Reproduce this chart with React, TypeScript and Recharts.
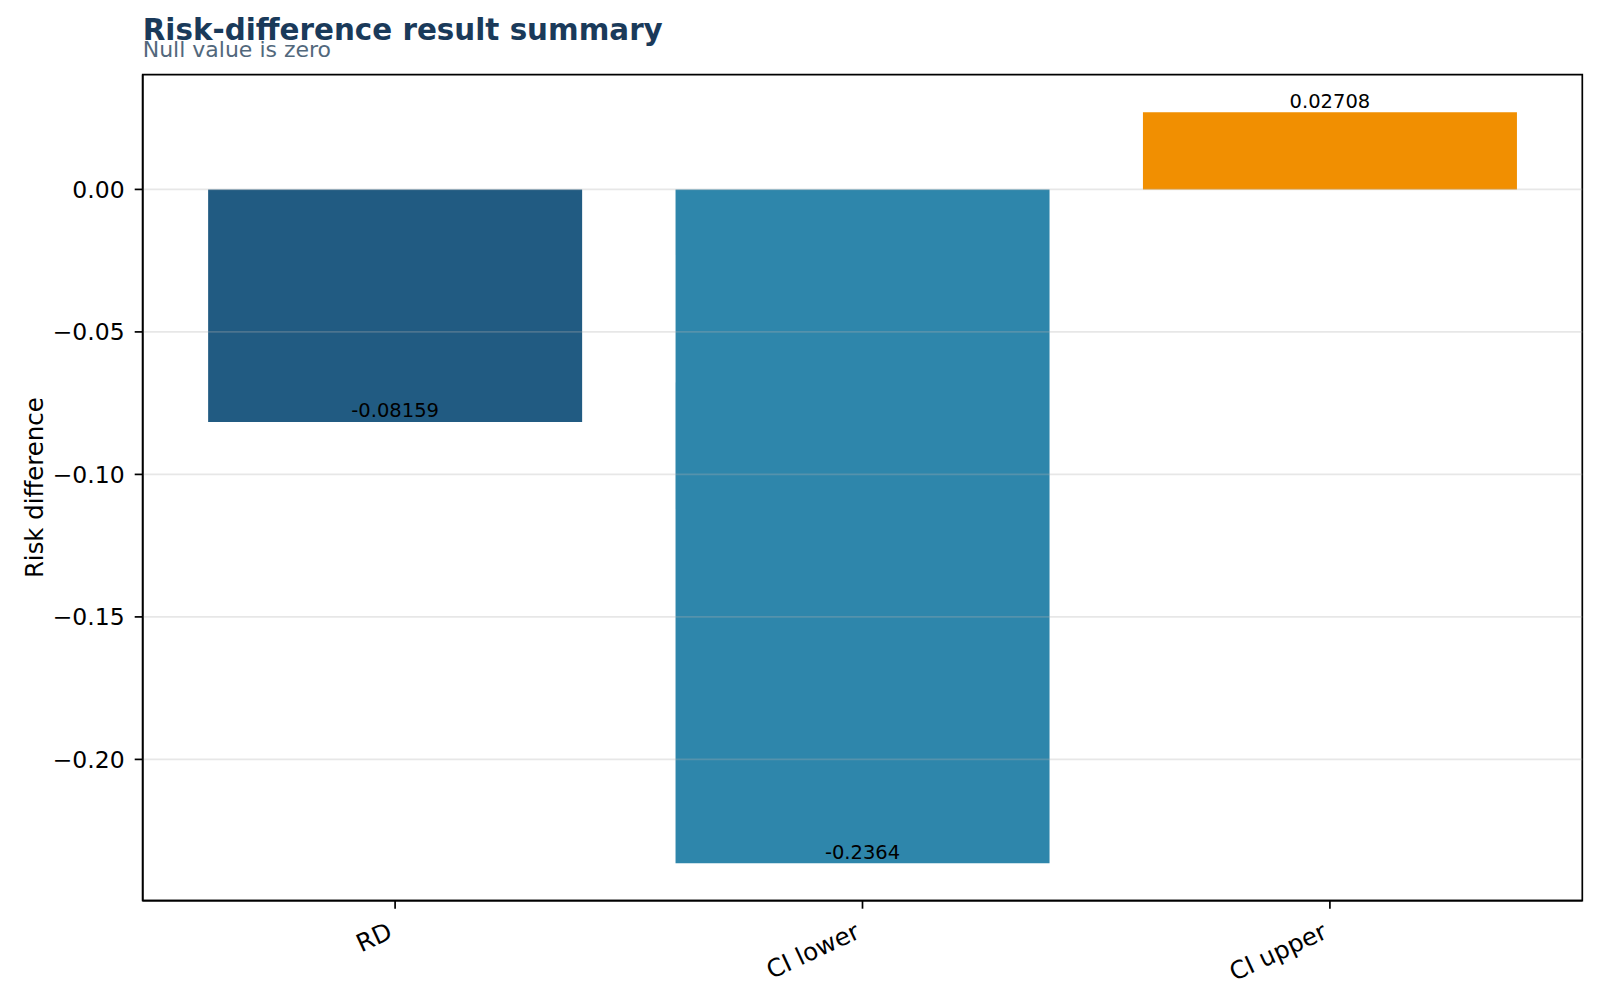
import React from 'react';
import { BarChart, Bar, XAxis, YAxis, Cell, LabelList, ReferenceLine, ReferenceArea } from 'recharts';

const categories = ['RD', 'CI lower', 'CI upper'];
const values = [-0.08159, -0.2364, 0.02708];
const barColors = ['#215b82', '#2e86ab', '#f18f01'];
const yTicks = [0, -0.05, -0.1, -0.15, -0.2];
const yDomain: [number, number] = [-0.24958, 0.04025];
const xDomain: [number, number] = [-0.54, 2.54];
const xTicks = [0, 1, 2];

const titleText = 'Risk-difference result summary';
const subtitleText = 'Null value is zero';
const yLabelText = 'Risk difference';

const data = categories.map((name, i) => ({ name, pos: i, value: values[i] }));

const FONT = '"DejaVu Sans", sans-serif';

const PLOT_LEFT = 142.7;
const PLOT_RIGHT = 1582.3;
const PLOT_TOP = 74.7;
const PLOT_BOTTOM = 900.7;
const W = 1600;
const H = 1000;

const fmtTick = (v: number) => {
  const s = Math.abs(v) < 1e-12 ? '0.00' : v.toFixed(2);
  return s.replace('-', '\u2212');
};

const XTick = (props: any) => {
  const { x, payload } = props;
  const ax = x - 9;
  const ay = PLOT_BOTTOM + 20;
  const label = categories[Math.round(Number(payload.value))] ?? '';
  return (
    <text
      x={ax}
      y={ay}
      textAnchor="end"
      dominantBaseline="hanging"
      transform={`rotate(-25 ${ax} ${ay})`}
      fontSize={24.5}
      fontFamily={FONT}
      fill="#000"
    >
      {label}
    </text>
  );
};

const renderLabel = (props: any) => {
  const vb = props.viewBox || {};
  const bx = Number(props.x ?? vb.x);
  const by = Number(props.y ?? vb.y);
  const bw = Number(props.width ?? vb.width);
  const bh = Number(props.height ?? vb.height);
  const idx = props.index ?? 0;
  const v = values[idx];
  const cx = bx + bw / 2;
  const endY = v >= 0 ? Math.min(by, by + bh) : Math.max(by, by + bh);
  return (
    <text
      x={cx}
      y={endY - 4.5}
      textAnchor="middle"
      fontSize={19.5}
      fontFamily={FONT}
      fill="#000"
    >
      {Number(v).toPrecision(4)}
    </text>
  );
};

export default function App() {
  return (
    <div style={{ position: 'absolute', left: 0, top: 0, width: W, height: H, background: '#fff' }}>
      <BarChart
        width={W}
        height={H}
        data={data}
        margin={{ top: PLOT_TOP, right: W - PLOT_RIGHT, bottom: 0, left: 0 }}
        barCategoryGap="10%"
      >
        <XAxis
          dataKey="pos"
          type="number"
          domain={xDomain}
          allowDataOverflow={true}
          ticks={xTicks}
          height={H - PLOT_BOTTOM}
          axisLine={{ stroke: '#000', strokeWidth: 1.7 }}
          tickLine={{ stroke: '#000', strokeWidth: 1.7 }}
          tickSize={8}
          tickMargin={0}
          tick={<XTick />}
          interval={0}
        />
        <YAxis
          type="number"
          domain={yDomain}
          allowDataOverflow={true}
          ticks={yTicks}
          width={PLOT_LEFT}
          axisLine={{ stroke: '#000', strokeWidth: 1.7 }}
          tickLine={{ stroke: '#000', strokeWidth: 1.7 }}
          tickSize={8}
          tickMargin={10}
          tickFormatter={fmtTick}
          tick={{ fontSize: 23.5, fontFamily: FONT, fill: '#000' }}
          interval={0}
        />
        <Bar dataKey="value" isAnimationActive={false}>
          {data.map((d, i) => (
            <Cell key={d.name} fill={barColors[i]} />
          ))}
          <LabelList dataKey="value" content={renderLabel} />
        </Bar>
        {yTicks.map((t) => (
          <ReferenceLine
            key={t}
            y={t}
            stroke="#b0b0b0"
            strokeOpacity={0.3}
            strokeWidth={1.8}
          />
        ))}
        <ReferenceArea
          x1={xDomain[0]}
          x2={xDomain[1]}
          y1={yDomain[0]}
          y2={yDomain[1]}
          fill="none"
          fillOpacity={0}
          stroke="#000"
          strokeWidth={1.7}
          strokeOpacity={1}
          ifOverflow="visible"
        />
      </BarChart>
      <svg
        width={W}
        height={H}
        style={{ position: 'absolute', left: 0, top: 0, pointerEvents: 'none' }}
      >
        <text x={PLOT_LEFT} y={39.5} fontSize={29.4} fontWeight="bold" fontFamily={FONT} fill="#1a3a5a">
          {titleText}
        </text>
        <text x={PLOT_LEFT} y={56.7} fontSize={22} fontFamily={FONT} fill="#52687c">
          {subtitleText}
        </text>
        <text
          x={43.5}
          y={(PLOT_TOP + PLOT_BOTTOM) / 2}
          textAnchor="middle"
          fontSize={24.4}
          fontFamily={FONT}
          fill="#000"
          transform={`rotate(-90 43.5 ${(PLOT_TOP + PLOT_BOTTOM) / 2})`}
        >
          {yLabelText}
        </text>
      </svg>
    </div>
  );
}
